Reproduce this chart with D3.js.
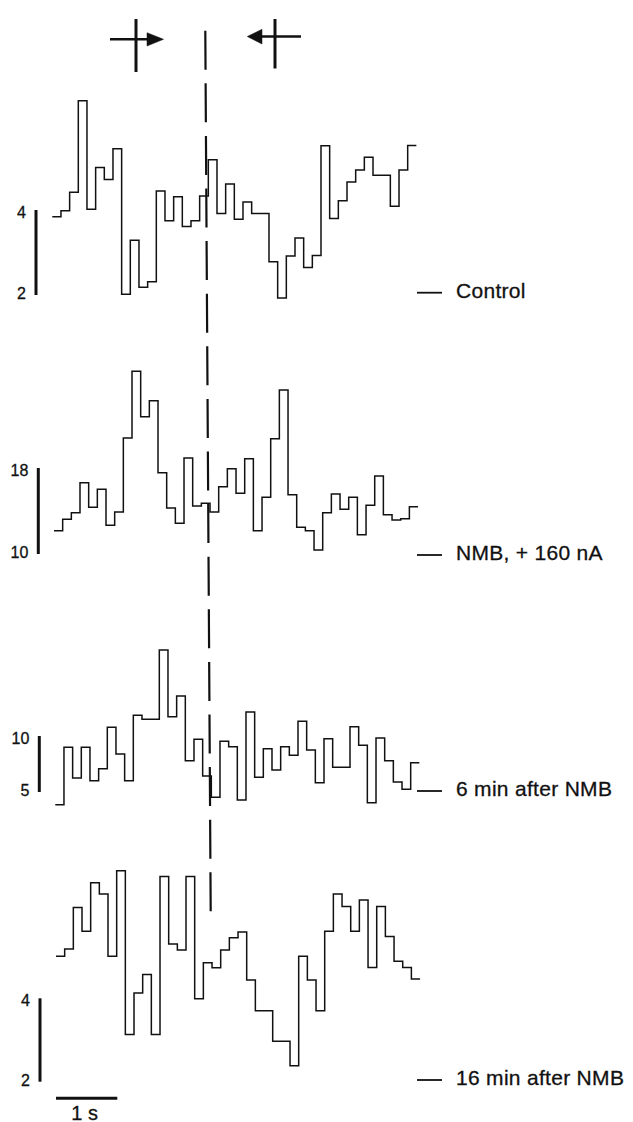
<!DOCTYPE html>
<html>
<head>
<meta charset="utf-8">
<script src="https://cdn.jsdelivr.net/npm/d3@7"></script>
<style>
  html, body { margin: 0; padding: 0; background: #fff; }
  svg { display: block; }
  text { font-family: "Liberation Sans", Arial, Helvetica, sans-serif; fill: #111; stroke: #111; stroke-width: 0.3px; }
</style>
</head>
<body>
<script>
// ---------------- DATA ----------------
const binSeconds = 0.1414;               // width of one histogram bin (s)
const panelNames = ["Control", "NMB, + 160 nA", "6 min after NMB", "16 min after NMB"];

const controlRate = [3.84, 3.98, 4.42, 6.57, 4.02, 5.00, 4.72, 5.44, 2.02, 3.29, 2.18, 2.31,
  4.45, 3.75, 4.31, 3.61, 3.75, 4.33, 5.18, 3.92, 4.61, 3.78, 4.19, 3.92, 3.92, 2.78,
  1.93, 2.92, 3.34, 2.65, 2.93, 5.51, 3.80, 4.22, 4.66, 4.94, 5.24, 4.82, 4.82, 4.09, 4.94, 5.52];

const nmb160Rate = [12.17, 13.23, 13.84, 16.63, 14.34, 16.02, 12.67, 13.91, 20.79, 27.00, 22.77,
  24.26, 17.56, 14.28, 12.86, 18.93, 14.47, 14.72, 13.91, 16.26, 17.93, 15.65, 18.87, 12.17,
  15.27, 20.73, 25.26, 15.52, 12.48, 12.17, 10.37, 13.84, 15.58, 14.16, 15.27, 11.80, 14.53,
  17.26, 13.66, 13.16, 13.28, 14.40];

const min6Rate = [3.87, 8.99, 6.25, 8.99, 6.01, 7.08, 10.78, 8.39, 6.01, 11.85, 11.49, 11.49,
  17.68, 11.72, 13.57, 7.79, 9.71, 6.43, 4.53, 9.53, 9.04, 4.29, 12.14, 6.31, 8.87, 6.96,
  9.04, 8.28, 11.31, 8.75, 5.83, 9.76, 7.21, 7.21, 10.83, 9.17, 4.04, 9.82, 7.79, 5.89, 5.24, 7.62];

const min16Rate = [5.01, 5.18, 6.18, 5.61, 6.77, 6.50, 5.01, 7.06, 3.13, 4.13, 4.57, 3.13,
  6.92, 5.30, 5.16, 6.92, 3.99, 4.85, 4.73, 5.16, 5.45, 5.59, 4.44, 3.70, 3.70, 2.97, 2.97,
  2.38, 5.01, 4.44, 3.70, 5.61, 6.50, 6.20, 5.61, 6.36, 4.74, 6.20, 5.48, 4.89, 4.74, 4.46];

const seriesValues = [controlRate, nmb160Rate, min6Rate, min16Rate];
const scaleBarTicks = [[2, 4], [10, 18], [5, 10], [2, 4]];   // calibration bar limits
const timeBarSeconds = 1;
const timeBarLabel = "1 s";

// ---------------- LAYOUT ----------------
const W = 633, H = 1122;
const pxPerSecond = 61.3;
const layout = [
  { x0: 52.3, yLo: 295,    yHi: 210,   barX: 36,   tagY: 292.7 },
  { x0: 54.0, yLo: 554,    yHi: 468,   barX: 38.3, tagY: 555 },
  { x0: 55.3, yLo: 792,    yHi: 736,   barX: 39.3, tagY: 791 },
  { x0: 56.0, yLo: 1081.7, yHi: 998.3, barX: 40,   tagY: 1080 }
];
const ink = "#111";

const svg = d3.select("body").append("svg")
  .attr("width", W).attr("height", H)
  .attr("viewBox", `0 0 ${W} ${H}`);
svg.append("rect").attr("width", W).attr("height", H).attr("fill", "#fff");

const totalSec = controlRate.length * binSeconds;

seriesValues.forEach((vals, i) => {
  const L = layout[i];
  const [lo, hi] = scaleBarTicks[i];
  const x = d3.scaleLinear().domain([0, totalSec]).range([L.x0, L.x0 + totalSec * pxPerSecond]);
  const y = d3.scaleLinear().domain([lo, hi]).range([L.yLo, L.yHi]);

  const pts = vals.map((v, k) => [k * binSeconds, v]);
  pts.push([vals.length * binSeconds, vals[vals.length - 1]]);

  const line = d3.line()
    .x(d => x(d[0])).y(d => y(d[1]))
    .curve(d3.curveStepAfter);

  const g = svg.append("g");
  g.append("path")
    .attr("d", line(pts))
    .attr("fill", "none")
    .attr("stroke", ink)
    .attr("stroke-width", 1.5)
    .attr("stroke-linejoin", "miter");

  // calibration bar
  g.append("line")
    .attr("x1", L.barX).attr("x2", L.barX)
    .attr("y1", y(lo)).attr("y2", y(hi))
    .attr("stroke", ink).attr("stroke-width", 3);
  g.append("text")
    .attr("x", L.barX - 10).attr("y", y(hi) + 8)
    .attr("text-anchor", "end").attr("font-size", 16)
    .attr("stroke-width", 0.5)
    .text(hi);
  g.append("text")
    .attr("x", L.barX - 10).attr("y", y(lo) + 4)
    .attr("text-anchor", "end").attr("font-size", 16)
    .attr("stroke-width", 0.5)
    .text(lo);

  // condition tag
  g.append("line")
    .attr("x1", 417).attr("x2", 442)
    .attr("y1", L.tagY).attr("y2", L.tagY)
    .attr("stroke", ink).attr("stroke-width", 1.8);
  g.append("text")
    .attr("x", 456).attr("y", L.tagY + 5)
    .attr("font-size", 21)
    .attr("letter-spacing", 0.3)
    .text(panelNames[i]);

  // time bar under last panel
  if (i === seriesValues.length - 1) {
    g.append("line")
      .attr("x1", x(0)).attr("x2", x(timeBarSeconds))
      .attr("y1", 1098.3).attr("y2", 1098.3)
      .attr("stroke", ink).attr("stroke-width", 3);
    g.append("text")
      .attr("x", x(timeBarSeconds / 2) - 2).attr("y", 1119.5)
      .attr("text-anchor", "middle").attr("font-size", 20)
      .text(timeBarLabel);
  }
});

// vertical dashed reference line
svg.append("line")
  .attr("x1", 205.3).attr("y1", 30.7)
  .attr("x2", 210.7).attr("y2", 912)
  .attr("stroke", ink).attr("stroke-width", 2.2)
  .attr("stroke-dasharray", "39 13.6");

// arrow markers at the top
const arrows = svg.append("g").attr("fill", ink).attr("stroke", ink);
// left: points right
arrows.append("line").attr("x1", 136).attr("x2", 136).attr("y1", 19).attr("y2", 72).attr("stroke-width", 3);
arrows.append("line").attr("x1", 110).attr("x2", 150).attr("y1", 39.3).attr("y2", 39.3).attr("stroke-width", 2.4);
arrows.append("path").attr("d", "M147,32.7 L163.5,39.3 L147,46 Z").attr("stroke-width", 0.5);
// right: points left
arrows.append("line").attr("x1", 275).attr("x2", 275).attr("y1", 19).attr("y2", 68.5).attr("stroke-width", 3);
arrows.append("line").attr("x1", 260).attr("x2", 301).attr("y1", 36.5).attr("y2", 36.5).attr("stroke-width", 2.4);
arrows.append("path").attr("d", "M247.3,36.5 L262,29.3 L262,44 Z").attr("stroke-width", 0.5);
</script>
</body>
</html>
